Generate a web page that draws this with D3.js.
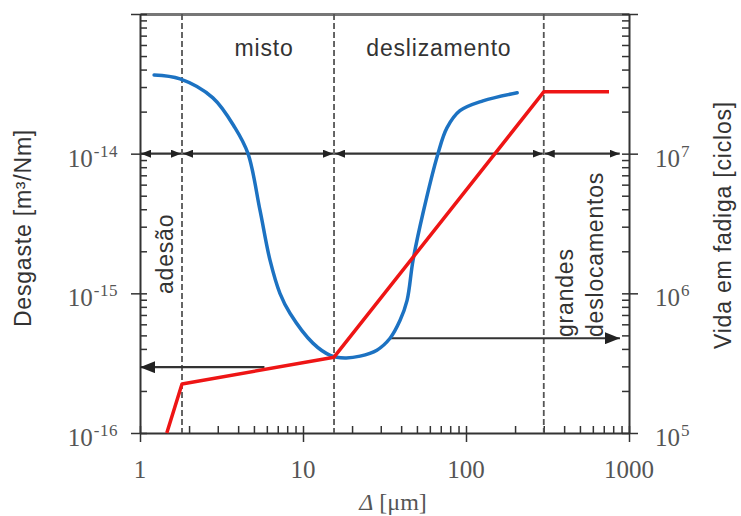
<!DOCTYPE html>
<html>
<head>
<meta charset="utf-8">
<script src="https://cdn.jsdelivr.net/npm/d3@7"></script>
<style>
  body { margin: 0; background: #fff; }
  svg { display: block; }
</style>
</head>
<body>
<svg id="drawing_region"></svg>
<script>
// wear curve (left axis, m³/Nm) against slip amplitude Δ [μm]
const wearX = [1.22, 1.76, 2.80, 3.83, 4.60, 5.45, 6.28, 7.22, 8.32, 11.5, 14.7, 18.1, 22.4, 28.4, 34.2, 39.4, 43.5, 47.3, 54.4, 67.3, 76.4, 91.8, 127, 206];
const wearY = [3.66e-14, 3.43e-14, 2.51e-14, 1.53e-14, 1.0e-14, 3.92e-15, 1.72e-15, 1.0e-15, 7.2e-16, 4.4e-16, 3.6e-16, 3.45e-16, 3.55e-16, 3.92e-16, 4.77e-16, 6.41e-16, 8.91e-16, 1.72e-15, 3.73e-15, 1.0e-14, 1.53e-14, 2.03e-14, 2.39e-14, 2.73e-14];

// fatigue life (right axis, cycles)
const lifeX = [1.46, 1.81, 15.5, 300, 754];
const lifeY = [1e5, 2.24e5, 3.49e5, 2.77e7, 2.77e7];

// regime boundaries (dashed lines)
const bounds = [1.81, 15.5, 300];

const xTicks = [1, 10, 100, 1000];
const xTickLabels = ['1', '10', '100', '1000'];
const leftExp = [-16, -15, -14];
const rightExp = [5, 6, 7];

const config = {
    width: 741,
    height: 516,
    margin: { top: 14, right: 112, bottom: 83, left: 140 }
};

const svg = d3.select('#drawing_region')
    .attr('width', config.width)
    .attr('height', config.height);

const x0 = config.margin.left;
const x1 = config.width - config.margin.right;
const y0 = config.height - config.margin.bottom;
const y1 = config.margin.top;

const xscale = d3.scaleLog().domain([1, 1000]).range([x0, x1]);
const yleft = d3.scaleLog().domain([1e-16, 1e-13]).range([y0, y1]);
const yright = d3.scaleLog().domain([1e5, 1e8]).range([y0, y1]);

const defs = svg.append('defs');
function marker(id, w, h) {
    defs.append('marker')
        .attr('id', id)
        .attr('viewBox', `0 0 ${w} ${h}`)
        .attr('refX', w).attr('refY', h / 2)
        .attr('markerWidth', w).attr('markerHeight', h)
        .attr('markerUnits', 'userSpaceOnUse')
        .attr('orient', 'auto-start-reverse')
        .append('path')
        .attr('d', `M0,0L${w},${h / 2}L0,${h}Z`)
        .attr('fill', '#222');
}
marker('arr', 10, 8);
marker('arrbig', 15, 12);

// ---- axes ----
function styleAxis(g) {
    g.select('.domain').attr('stroke', '#333').attr('stroke-width', 2);
    g.selectAll('.tick line').attr('stroke', '#333').attr('stroke-width', 1.5);
}

// top frame
svg.append('g')
    .attr('transform', `translate(0,${y1})`)
    .call(d3.axisTop(xscale).tickValues([]).tickSizeOuter(0))
    .call(g => g.select('.domain').attr('stroke', '#777').attr('stroke-width', 3));

// bottom: minor ticks inside, majors outside
svg.append('g')
    .attr('transform', `translate(0,${y0})`)
    .call(d3.axisTop(xscale).tickValues(xscale.ticks()).tickSize(7).tickSizeOuter(0).tickFormat(''))
    .call(styleAxis);
svg.append('g')
    .attr('transform', `translate(0,${y0})`)
    .call(d3.axisBottom(xscale).tickValues(xTicks).tickSize(9).tickSizeOuter(0).tickFormat(''))
    .call(styleAxis)
    .call(g => g.select('.domain').remove());

// left
svg.append('g')
    .attr('transform', `translate(${x0},0)`)
    .call(d3.axisRight(yleft).tickValues(yleft.ticks()).tickSize(7).tickSizeOuter(0).tickFormat(''))
    .call(styleAxis);
svg.append('g')
    .attr('transform', `translate(${x0},0)`)
    .call(d3.axisLeft(yleft).tickValues([1e-16, 1e-15, 1e-14, 1e-13]).tickSize(9).tickSizeOuter(0).tickFormat(''))
    .call(styleAxis)
    .call(g => g.select('.domain').remove());

// right
svg.append('g')
    .attr('transform', `translate(${x1},0)`)
    .call(d3.axisLeft(yright).tickValues(yright.ticks()).tickSize(7).tickSizeOuter(0).tickFormat(''))
    .call(styleAxis);
svg.append('g')
    .attr('transform', `translate(${x1},0)`)
    .call(d3.axisRight(yright).tickValues([1e5, 1e6, 1e7, 1e8]).tickSize(9).tickSizeOuter(0).tickFormat(''))
    .call(styleAxis)
    .call(g => g.select('.domain').remove());

// ---- tick labels ----
const serif = '"Liberation Serif", "Times New Roman", serif';
const sans = '"Liberation Sans", Arial, sans-serif';

svg.append('g').selectAll('text')
    .data(xTicks)
    .join('text')
    .attr('x', d => xscale(d))
    .attr('y', y0 + 45)
    .attr('text-anchor', 'middle')
    .attr('font-family', serif).attr('font-size', 25).attr('fill', '#555')
    .text((d, i) => xTickLabels[i]);

function powLabel(g) {
    g.append('tspan').text('10');
    g.append('tspan')
        .attr('dy', -10).attr('dx', 1).attr('font-size', 17)
        .attr('letter-spacing', 0.5)
        .text(d => d < 0 ? '-' + (-d) : d);
}

svg.append('g').selectAll('text')
    .data(leftExp)
    .join('text')
    .attr('x', x0 - 22)
    .attr('y', d => yleft(Math.pow(10, d)) + 13)
    .attr('text-anchor', 'end')
    .attr('font-family', serif).attr('font-size', 25).attr('fill', '#555')
    .call(powLabel);

svg.append('g').selectAll('text')
    .data(rightExp)
    .join('text')
    .attr('x', x1 + 26)
    .attr('y', d => yright(Math.pow(10, d)) + 13)
    .attr('text-anchor', 'start')
    .attr('font-family', serif).attr('font-size', 25).attr('fill', '#555')
    .call(powLabel);

// ---- dashed regime lines ----
svg.append('g').selectAll('line')
    .data(bounds)
    .join('line')
    .attr('x1', d => xscale(d)).attr('x2', d => xscale(d))
    .attr('y1', y1).attr('y2', y0)
    .attr('stroke', '#555').attr('stroke-width', 1.8)
    .attr('stroke-dasharray', '6,3');

// ---- arrows ----
const segEdges = [1].concat(bounds, [890]);
const segs = d3.pairs(segEdges);
svg.append('g').selectAll('line')
    .data(segs)
    .join('line')
    .attr('x1', d => xscale(d[0]) + 1).attr('x2', d => xscale(d[1]) - 1)
    .attr('y1', yleft(1e-14)).attr('y2', yleft(1e-14))
    .attr('stroke', '#333').attr('stroke-width', 2.2)
    .attr('marker-start', 'url(#arr)')
    .attr('marker-end', 'url(#arr)');

svg.append('line')
    .attr('x1', xscale(5.8)).attr('x2', xscale(1))
    .attr('y1', yleft(2.96e-16)).attr('y2', yleft(2.96e-16))
    .attr('stroke', '#333').attr('stroke-width', 2.2)
    .attr('marker-end', 'url(#arrbig)');

svg.append('line')
    .attr('x1', xscale(34.2)).attr('x2', xscale(880))
    .attr('y1', yleft(4.77e-16)).attr('y2', yleft(4.77e-16))
    .attr('stroke', '#333').attr('stroke-width', 2.2)
    .attr('marker-end', 'url(#arrbig)');

// ---- curves ----
const wearLine = d3.line()
    .x(i => xscale(wearX[i]))
    .y(i => yleft(wearY[i]))
    .curve(d3.curveCatmullRom.alpha(0.5));
svg.append('path')
    .attr('d', wearLine(d3.range(wearX.length)))
    .attr('fill', 'none')
    .attr('stroke', '#1c72c2')
    .attr('stroke-width', 3.5)
    .attr('stroke-linecap', 'round');

const lifeLine = d3.line()
    .x(i => xscale(lifeX[i]))
    .y(i => yright(lifeY[i]));
svg.append('path')
    .attr('d', lifeLine(d3.range(lifeX.length)))
    .attr('fill', 'none')
    .attr('stroke', '#ee1515')
    .attr('stroke-width', 3.5)
    .attr('stroke-linejoin', 'round');

// ---- texts ----
const lab = svg.append('g')
    .attr('font-family', sans).attr('font-size', 23)
    .attr('fill', '#333').attr('letter-spacing', 0.8);

lab.append('text')
    .attr('x', xscale(Math.sqrt(bounds[0] * bounds[1])) + 6)
    .attr('y', 56)
    .attr('text-anchor', 'middle')
    .text('misto');
lab.append('text')
    .attr('x', xscale(Math.sqrt(bounds[1] * bounds[2])))
    .attr('y', 56)
    .attr('text-anchor', 'middle')
    .text('deslizamento');

function vtext(xp, yp, anchor, str) {
    lab.append('text')
        .attr('transform', `translate(${xp},${yp}) rotate(-90)`)
        .attr('text-anchor', anchor)
        .text(str);
}
vtext(173, 294, 'start', 'adesão');
vtext(573, 337, 'start', 'grandes');
vtext(603, 337, 'start', 'deslocamentos');
vtext(31, 228, 'middle', 'Desgaste [m³/Nm]');
vtext(731, 225, 'middle', 'Vida em fadiga [ciclos]');

// x axis title
const xt = svg.append('text')
    .attr('x', 393).attr('y', 510)
    .attr('text-anchor', 'middle')
    .attr('font-family', serif).attr('font-size', 24).attr('fill', '#555');
xt.append('tspan').attr('font-style', 'italic').text('Δ');
xt.append('tspan').text(' [μm]');
</script>
</body>
</html>
